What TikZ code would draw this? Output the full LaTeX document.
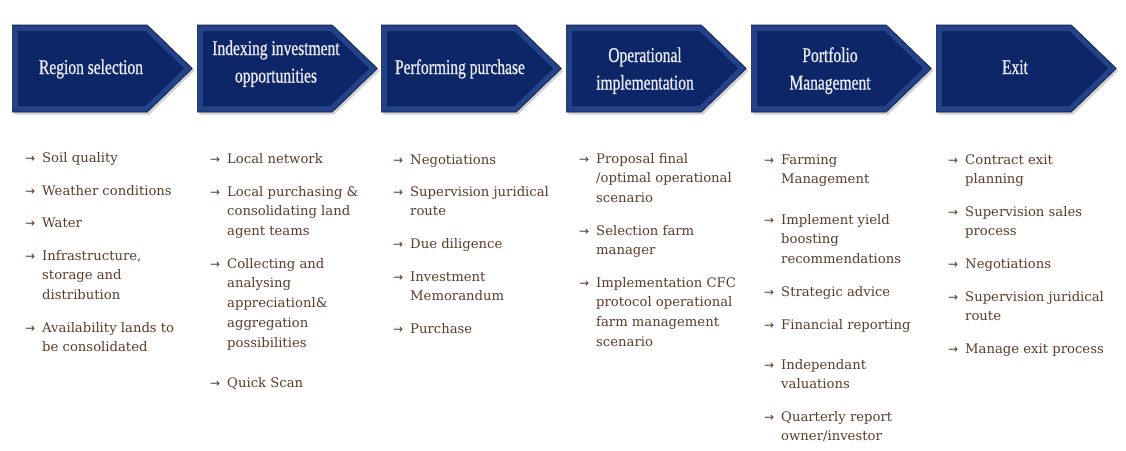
\documentclass[tikz,border=0pt]{standalone}
\usepackage{fontspec}
\setmainfont{DejaVu Serif}
\newfontfamily\headfont[FakeStretch=0.74,FakeBold=0.8]{Liberation Serif}
\newfontfamily\arrfont{DejaVu Sans}
\usetikzlibrary{shapes.symbols,shapes.arrows,shadows}
\definecolor{navy}{RGB}{13,38,104}
\definecolor{navyedge}{RGB}{36,66,136}
\definecolor{navydark}{RGB}{8,24,70}
\definecolor{itembrown}{RGB}{92,60,40}
\definecolor{headtext}{RGB}{232,234,242}
\newcommand\arr{\makebox[17pt][l]{\arrfont\fontsize{12}{12}\selectfont →}}
\newcommand\itm[1]{\begin{tabular}[t]{@{}l@{}l@{}}#1\end{tabular}}
\newcommand\hd[1]{\begin{tabular}[t]{@{}c@{}}#1\end{tabular}}
\tikzset{
  stageout/.style={signal, signal to=east, signal pointer angle=88,
    minimum width=180pt, minimum height=87pt, inner sep=0pt, anchor=west,
    fill=navyedge, draw=navydark, line width=0.6pt,
    drop shadow={shadow xshift=2pt, shadow yshift=-2.5pt, opacity=0.35}},
  stagein/.style={signal, signal to=east, signal pointer angle=88,
    minimum width=166pt, minimum height=75pt, inner sep=0pt, anchor=west, fill=navy},
  headtxt/.style={anchor=base, inner sep=0pt, text=headtext,
    font=\headfont\fontsize{21}{27.5}\selectfont},
  item/.style={anchor=base west, inner sep=0pt, text=itembrown,
    font=\fontsize{13.2}{19.8}\selectfont}
}
\begin{document}
\begin{tikzpicture}[x=1pt,y=-1pt]
\useasboundingbox (0,0) rectangle (1126,450);
\fill[white] (0,0) rectangle (1126,450);
% stages
\foreach \L/\n in {12/s1,197/s2,381/s3,566/s4,751/s5,936/s6}{
  \node[stageout] (\n) at (\L,68.5) {};
  \node[stagein] (\n i) at (\L+6,68.5) {};
}
\node[headtxt] (h1) at (91,74) {\hd{Region selection}};
\node[headtxt] (h2) at (276,55) {\hd{Indexing investment\\opportunities}};
\node[headtxt] (h3) at (460,74) {\hd{Performing purchase}};
\node[headtxt] (h4) at (645,62) {\hd{Operational\\implementation}};
\node[headtxt] (h5) at (830,62) {\hd{Portfolio\\Management}};
\node[headtxt] (h6) at (1015,74) {\hd{Exit}};
% column 1
\node[item] (a1) at (25,162) {\itm{\arr & Soil quality}};
\node[item] (a2) at (25,195) {\itm{\arr & Weather conditions}};
\node[item] (a3) at (25,227) {\itm{\arr & Water}};
\node[item] (a4) at (25,260) {\itm{\arr & Infrastructure,\\ & storage and\\ & distribution}};
\node[item] (a5) at (25,332) {\itm{\arr & Availability lands to\\ & be consolidated}};
% column 2
\node[item] (b1) at (210,163) {\itm{\arr & Local network}};
\node[item] (b2) at (210,196) {\itm{\arr & Local purchasing \&\\ & consolidating land\\ & agent teams}};
\node[item] (b3) at (210,268) {\itm{\arr & Collecting and\\ & analysing\\ & appreciationl\&\\ & aggregation\\ & possibilities}};
\node[item] (b4) at (210,387) {\itm{\arr & Quick Scan}};
% column 3
\node[item] (c1) at (393,164) {\itm{\arr & Negotiations}};
\node[item] (c2) at (393,196) {\itm{\arr & Supervision juridical\\ & route}};
\node[item] (c3) at (393,248) {\itm{\arr & Due diligence}};
\node[item] (c4) at (393,281) {\itm{\arr & Investment\\ & Memorandum}};
\node[item] (c5) at (393,333) {\itm{\arr & Purchase}};
% column 4
\node[item] (d1) at (579,163) {\itm{\arr & Proposal final\\ & /optimal operational\\ & scenario}};
\node[item] (d2) at (579,235) {\itm{\arr & Selection farm\\ & manager}};
\node[item] (d3) at (579,287) {\itm{\arr & Implementation CFC\\ & protocol operational\\ & farm management\\ & scenario}};
% column 5
\node[item] (e1) at (764,164) {\itm{\arr & Farming\\ & Management}};
\node[item] (e2) at (764,224) {\itm{\arr & Implement yield\\ & boosting\\ & recommendations}};
\node[item] (e3) at (764,296) {\itm{\arr & Strategic advice}};
\node[item] (e4) at (764,329) {\itm{\arr & Financial reporting}};
\node[item] (e5) at (764,369) {\itm{\arr & Independant\\ & valuations}};
\node[item] (e6) at (764,421) {\itm{\arr & Quarterly report\\ & owner/investor}};
% column 6
\node[item] (f1) at (948,164) {\itm{\arr & Contract exit\\ & planning}};
\node[item] (f2) at (948,216) {\itm{\arr & Supervision sales\\ & process}};
\node[item] (f3) at (948,268) {\itm{\arr & Negotiations}};
\node[item] (f4) at (948,301) {\itm{\arr & Supervision juridical\\ & route}};
\node[item] (f5) at (948,353) {\itm{\arr & Manage exit process}};
\end{tikzpicture}
\end{document}
